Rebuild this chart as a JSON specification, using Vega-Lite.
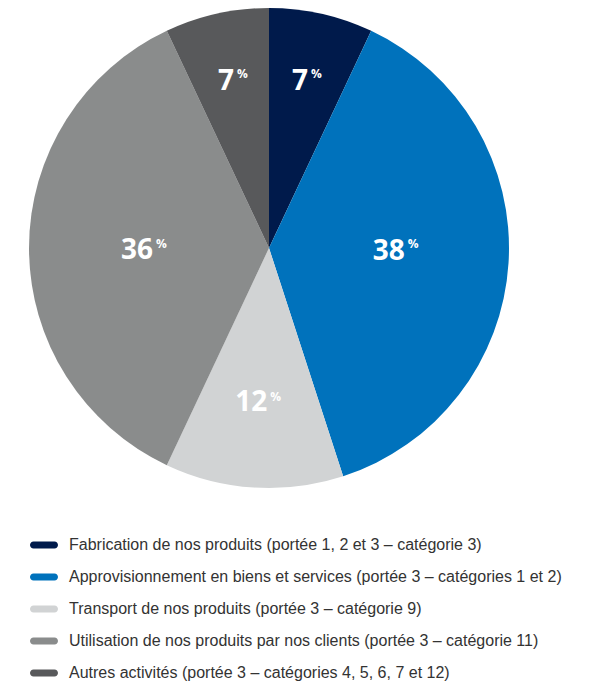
{
  "$schema": "https://vega.github.io/schema/vega-lite/v6.json",
  "width": 538,
  "height": 496,
  "padding": 0,
  "background": "#ffffff",
  "config": {"view": {"stroke": null}},
  "data": {"values": [
    {"cat": "Fabrication de nos produits (portée 1, 2 et 3 – catégorie 3)", "value": 7, "num": "7", "ord": 1},
    {"cat": "Approvisionnement en biens et services (portée 3 – catégories 1 et 2)", "value": 38, "num": "38", "ord": 2},
    {"cat": "Transport de nos produits (portée 3 – catégorie 9)", "value": 12, "num": "12", "ord": 3},
    {"cat": "Utilisation de nos produits par nos clients (portée 3 – catégorie 11)", "value": 36, "num": "36", "ord": 4},
    {"cat": "Autres activités (portée 3 – catégories 4, 5, 6, 7 et 12)", "value": 7, "num": "7", "ord": 5}
  ]},
  "encoding": {
    "theta": {"field": "value", "type": "quantitative", "stack": true},
    "order": {"field": "ord", "type": "quantitative"}
  },
  "layer": [
    {
      "mark": {"type": "arc", "outerRadius": 240},
      "encoding": {
        "color": {
          "field": "cat", "type": "nominal",
          "scale": {
            "domain": [
              "Fabrication de nos produits (portée 1, 2 et 3 – catégorie 3)",
              "Approvisionnement en biens et services (portée 3 – catégories 1 et 2)",
              "Transport de nos produits (portée 3 – catégorie 9)",
              "Utilisation de nos produits par nos clients (portée 3 – catégorie 11)",
              "Autres activités (portée 3 – catégories 4, 5, 6, 7 et 12)"
            ],
            "range": ["#001a4b", "#0072bc", "#d1d3d4", "#8a8c8c", "#58595b"]
          },
          "legend": {
            "title": null,
            "orient": "none",
            "legendX": 30,
            "legendY": 531,
            "padding": 0,
            "symbolType": "M-0.75,-0.25 H0.75 A0.25,0.25 0 0 1 0.75,0.25 H-0.75 A0.25,0.25 0 0 1 -0.75,-0.25 Z",
            "symbolSize": 784,
            "symbolStrokeWidth": 0,
            "symbolOpacity": 1,
            "labelFont": "Liberation Sans",
            "labelFontSize": 16,
            "labelColor": "#333333",
            "labelOffset": 11,
            "labelLimit": 600,
            "rowPadding": 10
          }
        }
      }
    },
    {
      "mark": {"type": "text", "radius": 170, "align": "right", "baseline": "middle", "dx": 2, "font": "Open Sans", "fontWeight": "bold", "fontSize": 28, "color": "#ffffff"},
      "encoding": {"text": {"condition": {"test": "datum.value == 7", "field": "num"}, "value": ""}}
    },
    {
      "mark": {"type": "text", "radius": 170, "align": "left", "baseline": "middle", "dx": 5, "dy": -8, "font": "Open Sans", "fontWeight": "bold", "fontSize": 12, "color": "#ffffff"},
      "encoding": {"text": {"condition": {"test": "datum.value == 7", "value": "%"}, "value": ""}}
    },
    {
      "mark": {"type": "text", "radius": 136, "align": "right", "baseline": "middle", "dy": -5, "font": "Open Sans", "fontWeight": "bold", "fontSize": 28, "color": "#ffffff"},
      "encoding": {"text": {"condition": {"test": "datum.value == 38", "field": "num"}, "value": ""}}
    },
    {
      "mark": {"type": "text", "radius": 136, "align": "left", "baseline": "middle", "dx": 3, "dy": -13, "font": "Open Sans", "fontWeight": "bold", "fontSize": 12, "color": "#ffffff"},
      "encoding": {"text": {"condition": {"test": "datum.value == 38", "value": "%"}, "value": ""}}
    },
    {
      "mark": {"type": "text", "radius": 116, "align": "right", "baseline": "middle", "dy": 3, "font": "Open Sans", "fontWeight": "bold", "fontSize": 28, "color": "#ffffff"},
      "encoding": {"text": {"condition": {"test": "datum.value == 36", "field": "num"}, "value": ""}}
    },
    {
      "mark": {"type": "text", "radius": 116, "align": "left", "baseline": "middle", "dx": 3, "dy": -4, "font": "Open Sans", "fontWeight": "bold", "fontSize": 12, "color": "#ffffff"},
      "encoding": {"text": {"condition": {"test": "datum.value == 36", "value": "%"}, "value": ""}}
    },
    {
      "mark": {"type": "text", "radius": 155, "align": "right", "baseline": "middle", "dx": 8, "font": "Open Sans", "fontWeight": "bold", "fontSize": 28, "color": "#ffffff"},
      "encoding": {"text": {"condition": {"test": "datum.value == 12", "field": "num"}, "value": ""}}
    },
    {
      "mark": {"type": "text", "radius": 155, "align": "left", "baseline": "middle", "dx": 11, "dy": -6, "font": "Open Sans", "fontWeight": "bold", "fontSize": 12, "color": "#ffffff"},
      "encoding": {"text": {"condition": {"test": "datum.value == 12", "value": "%"}, "value": ""}}
    }
  ]
}
